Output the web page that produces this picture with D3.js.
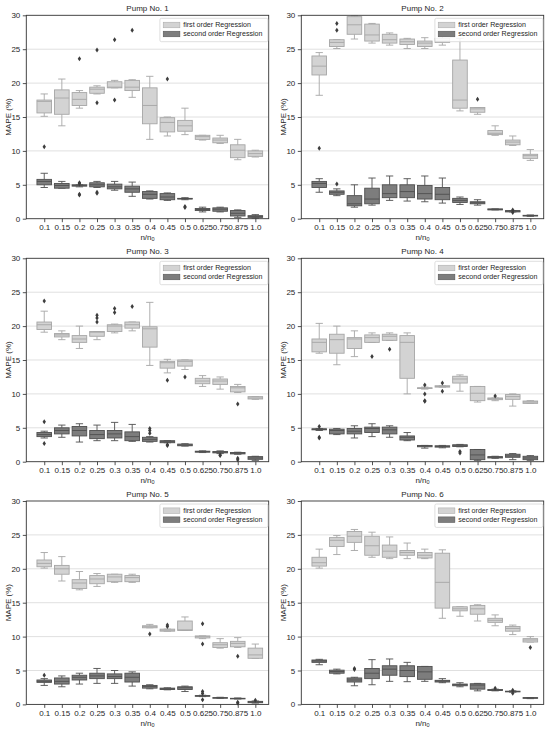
<!DOCTYPE html>
<html lang="en">
<head>
<meta charset="utf-8">
<title>Pump MAPE box plots</title>
<script src="https://d3js.org/d3.v7.min.js"></script>
<style>
    body { margin: 0; background: #fff; }
    svg { font-family: "Liberation Sans", Arial, sans-serif; }
</style>
</head>
<body>
<div id="chart"></div>
<script>
    const categories = ["0.1", "0.15", "0.2", "0.25", "0.3", "0.35", "0.4", "0.45", "0.5", "0.625", "0.75", "0.875", "1.0"];
    const pumpTitles = ["Pump No. 1", "Pump No. 2", "Pump No. 3", "Pump No. 4", "Pump No. 5", "Pump No. 6"];
    const seriesNames = ["first order Regression", "second order Regression"];
    const yTicks = [0, 5, 10, 15, 20, 25, 30];

    // each box: [whisker low, q1, median, q3, whisker high, [outliers]]
    const pump1First = [
        [15.1, 15.6, 17.3, 17.5, 18.4, [10.6]], [13.7, 15.4, 17.8, 19.0, 20.6, []],
        [16.3, 16.7, 17.6, 18.6, 18.9, [23.6]], [18.4, 18.5, 19.1, 19.4, 19.6, [24.9, 17.1]],
        [19.3, 19.3, 19.4, 20.2, 20.4, [26.4, 17.5]], [17.9, 18.9, 19.4, 20.4, 20.5, [27.8]],
        [11.7, 14.0, 16.7, 19.3, 21.0, []], [12.2, 12.8, 14.2, 14.9, 15.0, [20.6]],
        [12.4, 12.9, 13.7, 14.5, 16.3, []], [11.6, 11.7, 12.1, 12.3, 12.3, []],
        [11.1, 11.2, 11.6, 11.9, 12.3, []], [8.7, 9.0, 10.1, 10.9, 11.7, []],
        [9.1, 9.2, 9.6, 10.0, 10.1, []]
    ];
    const pump1Second = [
        [4.6, 5.0, 5.5, 5.8, 6.7, []], [4.5, 4.5, 4.9, 5.2, 5.5, []],
        [4.7, 4.8, 4.9, 5.0, 5.0, [5.3, 5.15, 3.6, 3.5]], [4.6, 4.7, 5.0, 5.3, 5.5, [3.9, 3.75]],
        [4.2, 4.4, 4.7, 5.1, 5.5, []], [3.3, 3.9, 4.4, 4.8, 5.4, []],
        [2.9, 3.0, 3.6, 4.0, 4.1, []], [2.7, 2.8, 3.2, 3.7, 3.8, []],
        [2.8, 2.9, 2.95, 3.0, 3.1, [1.8, 1.65]], [1.0, 1.2, 1.35, 1.5, 1.7, []],
        [1.0, 1.1, 1.4, 1.6, 1.7, []], [0.2, 0.4, 0.8, 1.2, 1.3, []],
        [0.1, 0.2, 0.3, 0.45, 0.6, []]
    ];
    const pump2First = [
        [18.2, 21.2, 22.5, 24.0, 24.5, []], [25.1, 25.4, 26.0, 26.4, 26.4, [28.8, 27.8]],
        [26.5, 27.2, 28.6, 29.8, 29.9, []], [25.9, 26.2, 27.1, 28.7, 28.8, []],
        [25.6, 25.9, 26.4, 27.2, 27.4, []], [25.1, 25.7, 26.1, 26.5, 26.6, []],
        [25.1, 25.4, 25.9, 26.2, 26.7, []], [25.6, 26.0, 26.2, 26.6, 26.9, []],
        [15.9, 16.3, 17.5, 23.4, 26.6, []], [15.4, 15.7, 16.2, 16.4, 16.4, [17.6]],
        [12.3, 12.4, 12.6, 13.0, 13.7, []], [10.8, 10.9, 11.3, 11.6, 12.2, []],
        [8.6, 8.9, 9.3, 9.5, 10.2, []]
    ];
    const pump2Second = [
        [3.9, 4.6, 5.2, 5.5, 5.9, [10.4]], [3.4, 3.6, 3.9, 4.1, 4.4, [5.1]],
        [1.7, 1.9, 2.2, 3.4, 5.0, []], [2.0, 2.2, 2.9, 4.5, 6.0, []],
        [2.7, 3.1, 3.7, 5.0, 6.3, []], [2.6, 3.1, 4.0, 5.0, 5.9, []],
        [2.5, 2.9, 3.7, 4.9, 6.3, []], [2.3, 2.8, 3.6, 4.6, 6.0, []],
        [2.1, 2.4, 2.7, 3.0, 3.2, []], [2.0, 2.2, 2.35, 2.5, 2.8, []],
        [1.3, 1.3, 1.35, 1.45, 1.45, []], [1.0, 1.0, 1.1, 1.2, 1.2, [1.3, 0.9]],
        [0.35, 0.4, 0.45, 0.5, 0.55, []]
    ];
    const pump3First = [
        [19.1, 19.5, 20.2, 20.6, 22.2, [23.7]], [18.0, 18.4, 18.7, 18.9, 19.3, []],
        [16.7, 17.6, 18.1, 18.6, 20.0, []], [18.0, 18.5, 19.1, 19.2, 19.2, [21.6, 21.2, 20.6]],
        [19.0, 19.2, 20.0, 20.2, 20.3, [22.6, 22.0]], [19.3, 19.7, 20.2, 20.6, 20.6, [22.9]],
        [14.2, 16.9, 19.6, 19.9, 23.5, []], [13.1, 13.8, 14.6, 14.8, 15.1, [12.0]],
        [13.6, 14.1, 14.8, 15.0, 15.0, [12.5]], [11.1, 11.5, 11.9, 12.3, 12.7, []],
        [10.7, 11.4, 11.9, 12.2, 12.5, []], [10.2, 10.3, 10.9, 11.1, 11.4, [8.5]],
        [9.2, 9.25, 9.4, 9.6, 9.6, []]
    ];
    const pump3Second = [
        [3.5, 3.7, 4.0, 4.3, 4.5, [5.9, 2.7]], [3.6, 4.1, 4.6, 5.0, 5.4, []],
        [2.9, 3.8, 4.6, 5.2, 5.6, []], [3.1, 3.4, 4.0, 4.6, 5.4, []],
        [3.1, 3.5, 4.1, 4.6, 5.8, []], [3.0, 3.1, 3.7, 4.4, 5.5, []],
        [2.9, 3.0, 3.3, 3.6, 3.7, [4.9, 4.6, 4.2]], [2.8, 2.8, 2.95, 3.1, 3.1, [2.5, 2.4]],
        [2.3, 2.35, 2.45, 2.6, 2.65, []], [1.35, 1.4, 1.5, 1.55, 1.6, []],
        [1.2, 1.3, 1.4, 1.5, 1.6, [1.0, 0.9]], [1.1, 1.15, 1.25, 1.35, 1.4, [0.5, 0.3]],
        [0.2, 0.35, 0.55, 0.75, 0.8, []]
    ];
    const pump4First = [
        [16.0, 16.2, 17.6, 18.1, 20.4, []], [14.3, 16.0, 18.0, 18.8, 20.0, []],
        [15.5, 16.7, 18.1, 18.3, 19.3, []], [17.6, 17.6, 18.3, 18.7, 19.0, [15.5]],
        [17.9, 17.9, 18.5, 18.8, 19.0, [16.6]], [10.0, 12.3, 17.6, 18.6, 19.0, []],
        [10.7, 10.8, 10.85, 10.9, 11.0, [11.3, 10.0, 9.0, 8.9]], [11.0, 11.0, 11.1, 11.2, 11.2, [11.6, 10.4]],
        [10.4, 11.6, 12.2, 12.6, 12.8, []], [8.8, 9.0, 10.1, 11.1, 11.1, []],
        [9.0, 9.15, 9.3, 9.4, 9.4, [9.7]], [8.2, 9.2, 9.6, 9.9, 10.0, []],
        [8.6, 8.6, 8.8, 8.95, 9.0, []]
    ];
    const pump4Second = [
        [4.6, 4.7, 4.8, 4.85, 4.9, [5.2, 3.6, 3.5]], [4.0, 4.1, 4.6, 4.8, 4.9, []],
        [3.5, 4.1, 4.5, 4.9, 5.3, []], [3.7, 4.3, 4.9, 5.1, 5.6, []],
        [3.6, 4.1, 4.7, 5.1, 5.3, []], [3.1, 3.2, 3.6, 3.8, 4.3, []],
        [2.0, 2.2, 2.3, 2.4, 2.4, []], [2.05, 2.15, 2.25, 2.35, 2.4, []],
        [2.2, 2.25, 2.35, 2.5, 2.55, [1.5, 1.3]], [0.2, 0.3, 1.0, 1.8, 1.8, []],
        [0.5, 0.55, 0.65, 0.75, 0.8, []], [0.3, 0.65, 0.85, 1.1, 1.2, []],
        [0.2, 0.3, 0.55, 0.8, 0.9, []]
    ];
    const pump5First = [
        [20.1, 20.3, 20.8, 21.3, 22.4, []], [18.2, 19.2, 20.0, 20.5, 21.8, []],
        [16.9, 17.1, 17.9, 18.4, 19.6, []], [17.4, 17.8, 18.5, 19.0, 19.3, []],
        [18.0, 18.1, 18.8, 19.2, 19.2, []], [18.0, 18.1, 18.7, 19.0, 19.2, []],
        [11.3, 11.3, 11.45, 11.6, 11.8, [10.4]], [10.8, 10.8, 10.95, 11.1, 11.1, [11.7, 11.5]],
        [10.9, 10.9, 11.0, 12.3, 12.9, []], [9.7, 9.8, 10.0, 10.1, 10.1, [11.9, 8.9]],
        [8.3, 8.4, 8.8, 9.1, 9.7, []], [8.4, 8.5, 9.0, 9.3, 9.85, [7.1]],
        [6.8, 6.8, 7.3, 8.3, 8.9, []]
    ];
    const pump5Second = [
        [2.8, 3.25, 3.4, 3.6, 3.8, [4.3]], [2.6, 3.0, 3.4, 3.9, 4.2, []],
        [3.0, 3.6, 4.0, 4.3, 4.6, []], [3.1, 3.8, 4.2, 4.6, 5.3, []],
        [3.1, 3.8, 4.1, 4.5, 5.0, []], [2.7, 3.3, 4.0, 4.6, 4.8, []],
        [2.3, 2.4, 2.65, 2.8, 2.9, []], [2.15, 2.2, 2.3, 2.4, 2.45, []],
        [1.9, 2.2, 2.45, 2.6, 2.7, []], [1.15, 1.2, 1.25, 1.3, 1.35, [1.9, 1.6, 0.7]],
        [0.9, 0.95, 0.97, 1.0, 1.05, []], [0.8, 0.85, 0.87, 0.9, 0.95, [0.3, 0.2]],
        [0.2, 0.25, 0.35, 0.45, 0.5, [0.6]]
    ];
    const pump6First = [
        [20.1, 20.4, 20.9, 21.7, 22.9, []], [22.1, 23.3, 24.2, 24.6, 24.9, []],
        [22.7, 23.9, 24.8, 25.5, 25.8, []], [21.7, 22.0, 23.4, 24.8, 25.4, []],
        [21.5, 21.7, 22.6, 23.5, 24.7, []], [21.5, 22.0, 22.4, 22.7, 23.8, []],
        [21.5, 21.6, 22.0, 22.4, 22.9, []], [12.7, 14.2, 18.0, 22.3, 22.8, []],
        [13.0, 13.8, 14.1, 14.4, 14.4, []], [12.3, 13.3, 14.1, 14.6, 14.7, []],
        [11.6, 12.1, 12.4, 12.7, 13.2, []], [10.3, 10.8, 11.2, 11.5, 11.7, []],
        [9.2, 9.2, 9.5, 9.7, 10.0, [8.4]]
    ];
    const pump6Second = [
        [5.85, 6.2, 6.4, 6.55, 6.65, []], [4.5, 4.6, 4.85, 5.05, 5.2, []],
        [2.75, 3.3, 3.6, 3.9, 4.0, [5.3, 5.15]], [2.9, 3.8, 4.6, 5.3, 6.6, []],
        [3.4, 4.3, 5.2, 5.7, 6.7, []], [3.35, 4.1, 5.0, 5.7, 6.2, []],
        [3.4, 3.7, 4.8, 5.6, 5.6, []], [3.2, 3.3, 3.45, 3.55, 3.8, []],
        [2.6, 2.75, 2.9, 3.0, 3.2, []], [2.0, 2.25, 2.85, 3.05, 3.1, []],
        [2.0, 2.05, 2.1, 2.2, 2.25, [2.4]], [1.8, 1.85, 1.9, 1.95, 2.0, [2.1, 1.65]],
        [0.85, 0.9, 0.95, 1.0, 1.0, []]
    ];

    const pumps = [
        [pump1First, pump1Second], [pump2First, pump2Second], [pump3First, pump3Second],
        [pump4First, pump4Second], [pump5First, pump5Second], [pump6First, pump6Second]
    ];

    const fills = ["#d3d3d3", "#7d7d7d"];
    const edges = ["#a6a6a6", "#4f4f4f"];
    const textColor = "#262626";

    const width = 550, height = 730;
    const colLeft = [26.3, 301.3], rowTop = [15.3, 258.3, 501];
    const pw = 242.4, ph = 203.4;
    const boxW = 0.83;

    const svg = d3.select("#chart").append("svg")
        .attr("width", width).attr("height", height)
        .attr("viewBox", [0, 0, width, height]);

    pumps.forEach((series, p) => {
        const g = svg.append("g")
            .attr("transform", `translate(${colLeft[p % 2]},${rowTop[Math.floor(p / 2)]})`);

        const x = d3.scaleLinear().domain([-1.02, 12.76]).range([0, pw]);
        const y = d3.scaleLinear().domain([0, 30]).range([ph, 0]);
        const half = (x(boxW) - x(0)) / 2;

        // horizontal grid
        g.append("g").selectAll("line")
            .data(yTicks.slice(1, -1))
            .join("line")
            .attr("x1", 0).attr("x2", pw)
            .attr("y1", d => y(d)).attr("y2", d => y(d))
            .attr("stroke", "#e0e0e0").attr("stroke-width", 1);

        series.forEach((boxes, s) => {
            const sg = g.append("g");
            boxes.forEach((b, i) => {
                const [lo, q1, med, q3, hi, out] = b;
                const cx = x(i);
                const bg = sg.append("g").attr("stroke", edges[s]).attr("stroke-width", 0.9);
                // whiskers
                bg.append("line").attr("x1", cx).attr("x2", cx).attr("y1", y(q3)).attr("y2", y(hi));
                bg.append("line").attr("x1", cx).attr("x2", cx).attr("y1", y(q1)).attr("y2", y(lo));
                bg.append("line").attr("x1", cx - half / 2).attr("x2", cx + half / 2).attr("y1", y(hi)).attr("y2", y(hi));
                bg.append("line").attr("x1", cx - half / 2).attr("x2", cx + half / 2).attr("y1", y(lo)).attr("y2", y(lo));
                bg.append("rect")
                    .attr("x", cx - half).attr("width", half * 2)
                    .attr("y", y(q3)).attr("height", Math.max(y(q1) - y(q3), 0.6))
                    .attr("fill", fills[s]);
                bg.append("line").attr("x1", cx - half).attr("x2", cx + half).attr("y1", y(med)).attr("y2", y(med));
                bg.selectAll("path.flier")
                    .data(out)
                    .join("path")
                    .attr("class", "flier")
                    .attr("d", d => `M${cx},${y(d) - 2.5}L${cx + 1.7},${y(d)}L${cx},${y(d) + 2.5}L${cx - 1.7},${y(d)}Z`)
                    .attr("fill", "#3d3d3d").attr("stroke", "none");
            });
        });

        // axes
        const yAxis = g.append("g")
            .call(d3.axisLeft(y).tickValues(yTicks).tickSize(3.5).tickPadding(2.5));
        const xAxis = g.append("g")
            .attr("transform", `translate(0,${ph})`)
            .call(d3.axisBottom(x).tickValues(d3.range(categories.length))
                .tickFormat(i => categories[i]).tickSize(3.5).tickPadding(2.5));
        [yAxis, xAxis].forEach(a => {
            a.select(".domain").remove();
            a.selectAll("line").attr("stroke", textColor).attr("stroke-width", 0.8);
            a.selectAll("text").attr("fill", textColor).style("font-size", "8px");
        });

        g.append("rect")
            .attr("width", pw).attr("height", ph)
            .attr("fill", "none").attr("stroke", "#333").attr("stroke-width", 0.9);

        // labels
        g.append("text")
            .attr("x", pw / 2).attr("y", -4.5)
            .attr("text-anchor", "middle")
            .attr("fill", textColor).style("font-size", "8px")
            .text(pumpTitles[p]);
        g.append("text")
            .attr("transform", `translate(${-15.5},${ph / 2}) rotate(-90)`)
            .attr("text-anchor", "middle")
            .attr("fill", textColor).style("font-size", "8px")
            .text("MAPE (%)");
        const xl = g.append("text")
            .attr("x", pw / 2).attr("y", ph + 21.3)
            .attr("text-anchor", "middle")
            .attr("fill", textColor).style("font-size", "8px");
        xl.append("tspan").text("n/n");
        xl.append("tspan").attr("dy", 1.5).style("font-size", "5.5px").text("0");

        // legend
        const lw = 108, lh = 23.4;
        const lg = g.append("g").attr("transform", `translate(${pw - lw - 0.8},${3})`);
        lg.append("rect")
            .attr("width", lw).attr("height", lh).attr("rx", 1.5)
            .attr("fill", "#fff").attr("fill-opacity", 0.85)
            .attr("stroke", "#d6d6d6").attr("stroke-width", 0.8);
        seriesNames.forEach((name, s) => {
            const cy = 6.7 + s * 9;
            lg.append("rect")
                .attr("x", 3.3).attr("y", cy - 2.8)
                .attr("width", 16.7).attr("height", 5.6)
                .attr("fill", fills[s]).attr("stroke", edges[s]).attr("stroke-width", 0.5);
            lg.append("text")
                .attr("x", 23.3).attr("y", cy + 2.5)
                .attr("fill", textColor).style("font-size", "7.1px")
                .text(name);
        });
    });
</script>
</body>
</html>
